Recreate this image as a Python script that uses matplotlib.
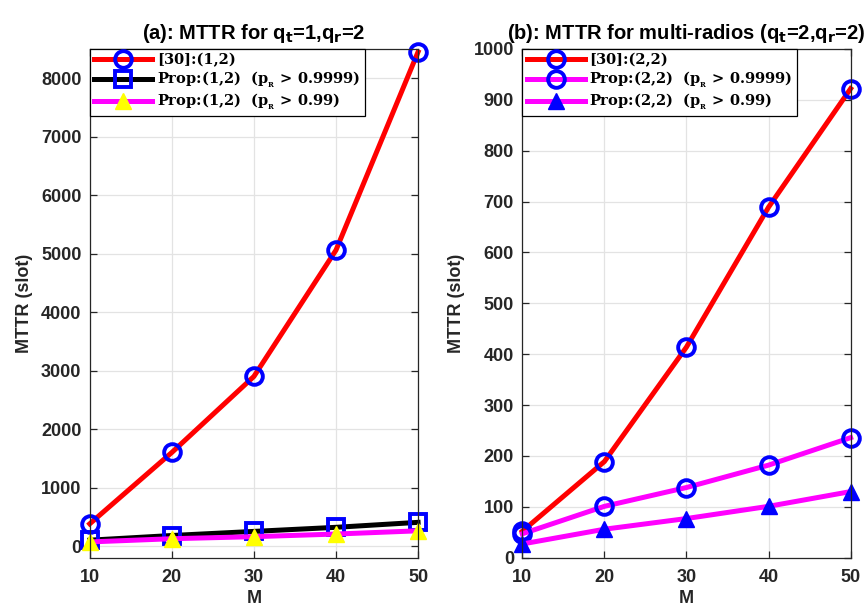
import matplotlib
matplotlib.use("Agg")
import matplotlib.pyplot as plt

plt.rcParams['font.family'] = ['Liberation Sans', 'DejaVu Sans']
plt.rcParams['font.weight'] = 'bold'
# 범례용 수식 폰트 (세리프 굵게)
plt.rcParams['mathtext.fontset'] = 'custom'
plt.rcParams['mathtext.rm'] = 'DejaVu Serif:bold'
plt.rcParams['mathtext.bf'] = 'DejaVu Serif:bold'
plt.rcParams['mathtext.it'] = 'DejaVu Serif:bold'

# 데이터
M = [10, 20, 30, 40, 50]

# (a) q_t=1, q_r=2
ref_12 = [380, 1600, 2900, 5060, 8450]
prop_12_9999 = [100, 180, 250, 320, 405]
prop_12_99 = [70, 125, 160, 205, 260]

# (b) q_t=2, q_r=2
ref_22 = [52, 189, 414, 689, 922]
prop_22_9999 = [47, 101, 138, 182, 236]
prop_22_99 = [27, 56, 77, 101, 130]

EDGE = '#262626'
LW = 3.6
MS = 12
MEW = 2.8

fig = plt.figure(figsize=(8.67, 6.10), dpi=100)
ax_a = fig.add_axes([0.1035, 0.0857, 0.3787, 0.834])
ax_b = fig.add_axes([0.6024, 0.0857, 0.3787, 0.834])

leg_prop = {'family': 'DejaVu Serif', 'size': 10.5, 'weight': 'bold', 'math_fontfamily': 'custom'}
PR = r'p$_{_\mathregular{R}}$'

# (a)
ax_a.plot(M, ref_12, '-o', color='red', lw=LW, ms=MS, mew=MEW, mfc='none', mec='blue',
          label='[30]:(1,2)')
ax_a.plot(M, prop_12_9999, '-s', color='black', lw=LW, ms=MS, mew=MEW, mfc='none', mec='blue',
          label='Prop:(1,2)  (' + PR + ' > 0.9999)')
ax_a.plot(M, prop_12_99, '-^', color='magenta', lw=LW, ms=MS, mew=1.0, mfc='yellow', mec='yellow',
          label='Prop:(1,2)  (' + PR + ' > 0.99)')
ax_a.set_ylim(-200, 8500)
ax_a.set_yticks(range(0, 8001, 1000))
ax_a.set_title(r'(a): MTTR for q$_\mathbf{t}$=1,q$_\mathbf{r}$=2', fontsize=14.5,
               fontweight='bold', pad=7, math_fontfamily='dejavusans')

# (b)
ax_b.plot(M, ref_22, '-o', color='red', lw=LW, ms=MS, mew=MEW, mfc='none', mec='blue',
          label='[30]:(2,2)')
ax_b.plot(M, prop_22_9999, '-o', color='magenta', lw=LW, ms=MS, mew=MEW, mfc='none', mec='blue',
          label='Prop:(2,2)  (' + PR + ' > 0.9999)')
ax_b.plot(M, prop_22_99, '-^', color='magenta', lw=LW, ms=MS, mew=1.0, mfc='blue', mec='blue',
          label='Prop:(2,2)  (' + PR + ' > 0.99)')
ax_b.set_ylim(0, 1000)
ax_b.set_yticks(range(0, 1001, 100))
ax_b.set_title(r'(b): MTTR for multi-radios (q$_\mathbf{t}$=2,q$_\mathbf{r}$=2)', fontsize=14.5,
               fontweight='bold', pad=7, math_fontfamily='dejavusans')

for ax in (ax_a, ax_b):
    ax.set_xlim(10, 50)
    ax.set_xticks(M)
    ax.set_xlabel('M', fontsize=13, fontweight='bold', color=EDGE, labelpad=3)
    ax.set_ylabel('MTTR (slot)', fontsize=13, fontweight='bold', color=EDGE, labelpad=6)
    ax.grid(True, color='#e3e3e3', lw=0.9)
    ax.set_axisbelow(True)
    ax.tick_params(direction='in', top=True, right=True, length=5, width=0.9,
                   color=EDGE, labelcolor=EDGE, labelsize=13)
    ax.tick_params(axis='x', pad=8)
    ax.tick_params(axis='y', pad=6)
    for lab in ax.get_xticklabels() + ax.get_yticklabels():
        lab.set_fontweight('bold')
    for sp in ax.spines.values():
        sp.set_color(EDGE)
        sp.set_linewidth(0.9)
    for ln in ax.get_lines():
        ln.set_clip_on(False)
    leg = ax.legend(loc='upper left', borderaxespad=0, prop=leg_prop, fancybox=False,
                    framealpha=1, edgecolor='black', handlelength=4.0, handletextpad=0.3,
                    labelspacing=0.15, borderpad=0.3, numpoints=1)
    leg.get_frame().set_linewidth(0.9)

plt.savefig('out.png', dpi=100)
plt.close()
